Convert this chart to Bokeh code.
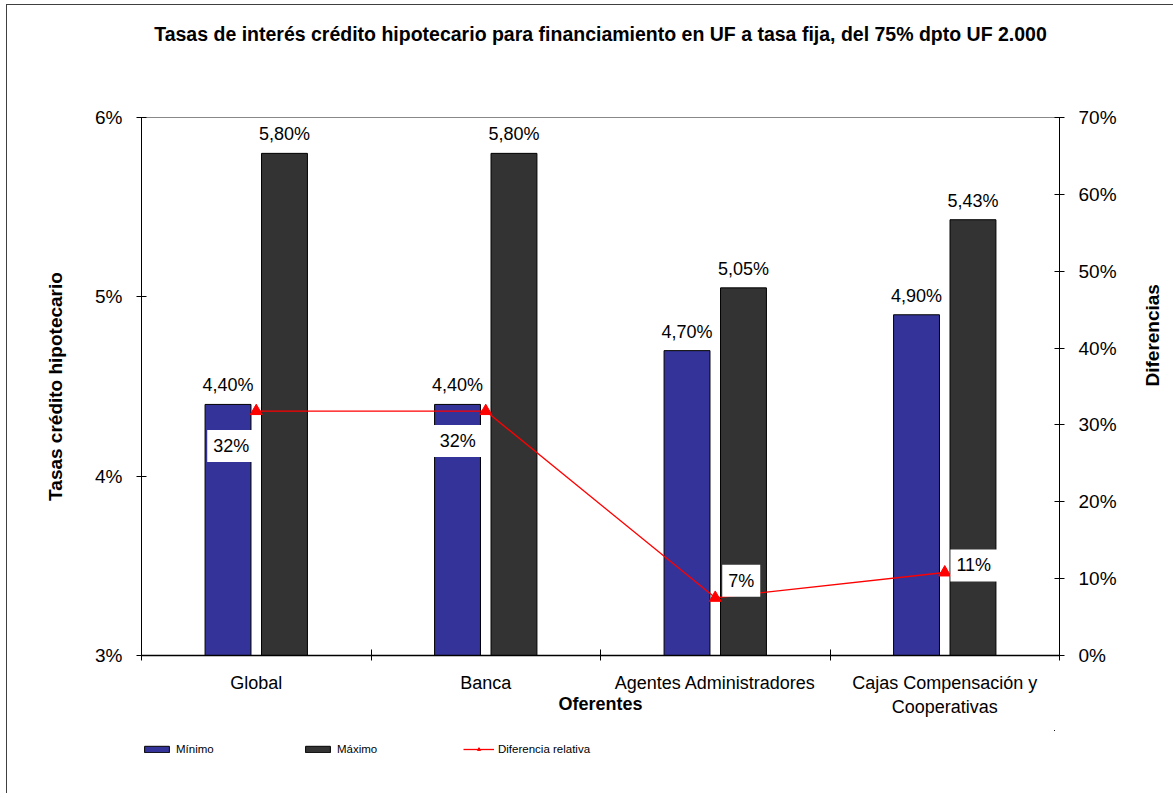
import math
import numpy as np
from bokeh.plotting import figure
from bokeh.layouts import column
from bokeh.models import (ColumnDataSource, Range1d, LinearAxis, FixedTicker,
                          PrintfTickFormatter, Legend, LegendItem, Label, Title)
from bokeh.transform import dodge
from bokeh.core.properties import value
from bokeh.embed import file_html
from bokeh.resources import INLINE

# ---- data ----
categories = ["Global", "Banca", "Agentes Administradores",
              "Cajas Compensación y\nCooperativas"]
minimo = [4.40, 4.40, 4.70, 4.90]
maximo = [5.80, 5.80, 5.05, 5.43]
diferencia = [31.8, 31.8, 7.5, 10.8]
diferencia_labels = ["32%", "32%", "7%", "11%"]
left_ticks = [3, 4, 5, 6]
right_ticks = [0, 10, 20, 30, 40, 50, 60, 70]
title_text = ("Tasas de interés crédito hipotecario para financiamiento en UF "
              "a tasa fija, del 75% dpto UF 2.000")
legend_labels = ["Mínimo", "Máximo", "Diferencia relativa"]

# ---- styles ----
FONT = "Liberation Sans"
BLUE = "#333399"
DARK = "#333333"
RED = "#FF0000"
BAR_W = 0.2
BAR_OFF = 0.123
diff_label_offsets = [(-25, -35), (-28, -30), (26, 17), (29, 7)]
TOTAL_W = 1164


def fmt(v):
    return f"{v:.2f}".replace(".", ",") + "%"


pos = np.arange(len(categories)) + 0.5
src = ColumnDataSource(dict(
    x=pos, minimo=minimo, maximo=maximo, dif=diferencia,
    min_lbl=[fmt(v) for v in minimo], max_lbl=[fmt(v) for v in maximo],
))

p = figure(frame_width=918, frame_height=538,
           min_border_left=134, min_border_right=112,
           min_border_top=112, min_border_bottom=75,
           x_range=Range1d(0, len(categories)), y_range=Range1d(3, 6),
           title_location=None,
           output_backend="svg", toolbar_location=None)
p.extra_y_ranges = {"dif": Range1d(0, 70)}
p.grid.visible = False
p.outline_line_color = "#888888"
p.background_fill_color = "white"
p.border_fill_color = "white"

# title (spacer nearest the frame, then the title text)
p.add_layout(Title(text=" ", text_font_size="1px", standoff=70), "above")
p.add_layout(Title(text=title_text, align="center", text_font=FONT,
                   text_font_size="19.5px", text_font_style="bold",
                   text_color="black", standoff=0), "above")

# bars
p.vbar(x=dodge("x", -BAR_OFF), top="minimo", bottom=3, width=BAR_W,
       fill_color=BLUE, line_color="black", line_width=1, source=src)
p.vbar(x=dodge("x", BAR_OFF), top="maximo", bottom=3, width=BAR_W,
       fill_color=DARK, line_color="black", line_width=1, source=src)
p.text(x=dodge("x", -BAR_OFF), y="minimo", text="min_lbl", source=src,
       text_align="center", text_baseline="bottom", y_offset=-9,
       text_font=value(FONT), text_font_size="18px", text_color="black")
p.text(x=dodge("x", BAR_OFF), y="maximo", text="max_lbl", source=src,
       text_align="center", text_baseline="bottom", y_offset=-9,
       text_font=value(FONT), text_font_size="18px", text_color="black")

# line
p.line(x="x", y="dif", y_range_name="dif", source=src, line_color=RED, line_width=1.3)
p.scatter(x="x", y="dif", y_range_name="dif", source=src,
          marker="triangle", size=12, fill_color=RED, line_color=RED)

for xi, yi, txt, (dx, dy) in zip(pos, diferencia, diferencia_labels, diff_label_offsets):
    p.add_layout(Label(x=xi, y=yi, y_range_name="dif", text=txt,
                       x_offset=dx, y_offset=dy, text_align="center",
                       text_baseline="middle", text_font=FONT,
                       text_font_size="18px", text_color="black",
                       background_fill_color="white", padding=6))

# axes
xa = p.xaxis[0]
xa.ticker = FixedTicker(ticks=list(pos), minor_ticks=list(range(len(categories) + 1)))
xa.major_label_overrides = {float(x): c for x, c in zip(pos, categories)}
xa.major_tick_line_color = None
xa.major_tick_in = 0
xa.major_tick_out = 0
xa.minor_tick_in = 6
xa.minor_tick_out = 5
xa.minor_tick_line_color = "black"
xa.axis_line_color = "black"
xa.axis_line_width = 1.5
xa.major_label_standoff = 12
xa.major_label_text_font = FONT
xa.major_label_text_font_size = "18px"
xa.major_label_text_color = "black"
xa.axis_label = "Oferentes"
xa.axis_label_text_font = FONT
xa.axis_label_text_font_size = "18px"
xa.axis_label_text_font_style = "bold"
xa.axis_label_text_color = "black"
xa.axis_label_standoff = -26

ya = p.yaxis[0]
ya.ticker = FixedTicker(ticks=left_ticks, minor_ticks=[])
ya.formatter = PrintfTickFormatter(format="%d%%")
ya.major_tick_in = 5
ya.major_tick_out = 5
ya.major_tick_line_color = "black"
ya.axis_line_color = "black"
ya.major_label_standoff = 14
ya.major_label_text_font = FONT
ya.major_label_text_font_size = "19px"
ya.major_label_text_color = "black"
ya.axis_label = "Tasas crédito hipotecario"
ya.axis_label_text_font = FONT
ya.axis_label_text_font_size = "19px"
ya.axis_label_text_font_style = "bold"
ya.axis_label_text_color = "black"
ya.axis_label_standoff = 26

ra = LinearAxis(y_range_name="dif", ticker=FixedTicker(ticks=right_ticks, minor_ticks=[]),
                formatter=PrintfTickFormatter(format="%d%%"))
ra.major_tick_in = 5
ra.major_tick_out = 5
ra.major_tick_line_color = "black"
ra.axis_line_color = "black"
ra.major_label_standoff = 14
ra.major_label_text_font = FONT
ra.major_label_text_font_size = "19px"
ra.major_label_text_color = "black"
ra.axis_label = "Diferencias"
ra.axis_label_text_font = FONT
ra.axis_label_text_font_size = "19px"
ra.axis_label_text_font_style = "bold"
ra.axis_label_text_color = "black"
ra.axis_label_standoff = 33
ra.axis_label_orientation = math.pi / 2
p.add_layout(ra, "right")

# legend strip (separate figure under the chart); its renderers share the
# chart's data but lie far outside this strip's ranges, so only the legend shows
lg = figure(width=TOTAL_W, height=63, min_border=0,
            x_range=Range1d(-10, -9), y_range=Range1d(-10, -9),
            output_backend="svg", toolbar_location=None)
lg.axis.visible = False
lg.grid.visible = False
lg.outline_line_color = None
lg.border_fill_color = "white"
g_min = lg.vbar(x="x", top="minimo", bottom=3, width=BAR_W, source=src,
                fill_color=BLUE, line_color="black")
g_max = lg.vbar(x="x", top="maximo", bottom=3, width=BAR_W, source=src,
                fill_color=DARK, line_color="black")
g_line = lg.line(x="x", y="dif", source=src, line_color=RED, line_width=1.3)
g_pts = lg.scatter(x="x", y="dif", source=src, marker="triangle", size=10,
                   fill_color=RED, line_color=RED)
legend = Legend(items=[LegendItem(label=legend_labels[0], renderers=[g_min]),
                       LegendItem(label=legend_labels[1], renderers=[g_max]),
                       LegendItem(label=legend_labels[2], renderers=[g_line, g_pts])],
                location=(0, 38), orientation="horizontal",
                glyph_width=31, glyph_height=8, label_height=12,
                label_width=116, label_standoff=4, spacing=10, padding=0, margin=0,
                border_line_color=None, background_fill_alpha=0,
                label_text_font=FONT, label_text_font_size="11.5px",
                label_text_color="black")
lg.add_layout(legend)

layout = column(p, lg, spacing=0,
                styles={"border-left": "1px solid #404040", "border-top": "1px solid #404040",
                        "margin-left": "6px", "margin-top": "4px"})

open("out.html", "w").write(file_html(layout, INLINE))
